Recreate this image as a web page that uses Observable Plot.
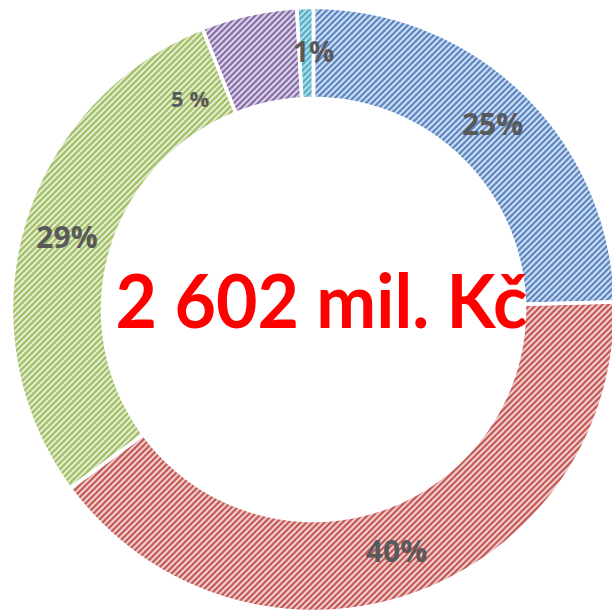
<!DOCTYPE html>
<html>
<head>
<meta charset="utf-8">
<script src="https://cdn.jsdelivr.net/npm/d3@7"></script>
<script src="https://cdn.jsdelivr.net/npm/@observablehq/plot@0.6"></script>
<style>
  html, body { margin: 0; padding: 0; background: #fff; }
</style>
</head>
<body>
<div id="chart"></div>
<script>
// ---- data (values in mil. Kč) ----
const categories = ["Segment 1", "Segment 2", "Segment 3", "Segment 4", "Segment 5"];
const values = [640, 1049, 757, 133, 23];
const pctLabels = ["25%", "40%", "29%", "5 %", "1%"];
const centerLabel = "2 602 mil. Kč";

// ---- styles ----
const stripeColors = ["#4f7fc0", "#c0504d", "#9bbb59", "#8064a2", "#4bacc6"];
const bgColors = ["#dae4f3", "#f4d9d8", "#e9f0dc", "#e3dcec", "#b9e1eb"];
const labelSizes = [30, 30, 30, 22, 28];

// ---- layout ----
const R_OUT = 302, R_IN = 211;
const labelPlacement = { 3: { angle: 329.5, r: 243 }, 4: { angle: 0, r: 256 } };

const total = d3.sum(values);
const toRad = Math.PI / 180;
let acc = 0;
const slices = values.map((v, i) => {
  const a0 = acc / total * 360;
  acc += v;
  const a1 = acc / total * 360;
  return { i, a0, a1 };
});

function slicePoints(s) {
  const pts = [];
  const n = Math.max(4, Math.ceil((s.a1 - s.a0) / 0.5));
  for (let k = 0; k <= n; k++) {
    const a = (s.a0 + (s.a1 - s.a0) * k / n) * toRad;
    pts.push({ x: R_OUT * Math.sin(a), y: R_OUT * Math.cos(a) });
  }
  for (let k = n; k >= 0; k--) {
    const a = (s.a0 + (s.a1 - s.a0) * k / n) * toRad;
    pts.push({ x: R_IN * Math.sin(a), y: R_IN * Math.cos(a) });
  }
  pts.push(pts[0]);
  return pts;
}

const labels = slices.map(s => {
  const p = labelPlacement[s.i] || { angle: (s.a0 + s.a1) / 2, r: (R_OUT + R_IN) / 2 };
  return { x: p.r * Math.sin(p.angle * toRad), y: p.r * Math.cos(p.angle * toRad), text: pctLabels[s.i], size: labelSizes[s.i] };
});

const fillMarks = slices.map(s => Plot.line(slicePoints(s), {
  x: "x", y: "y", fill: `url(#pat${s.i})`, stroke: "none", curve: "linear"
}));
const strokeMarks = slices.map(s => Plot.line(slicePoints(s), {
  x: "x", y: "y", fill: "none", stroke: "white", strokeWidth: 3.5, curve: "linear"
}));
const labelMarks = labels.map(l => Plot.text([l], {
  x: "x", y: "y", text: "text", fill: "#595959", fontSize: l.size, fontWeight: "bold", fontFamily: "Open Sans"
}));

const chart = Plot.plot({
  width: 612,
  height: 611,
  margin: 0,
  x: { domain: [-313, 299], axis: null },
  y: { domain: [-302, 309], axis: null },
  marks: [
    ...fillMarks,
    ...strokeMarks,
    ...labelMarks,
    Plot.text([{ x: 8, y: 5, t: centerLabel }], {
      x: "x", y: "y", text: "t", fill: "#ff0000", fontSize: 74, fontWeight: "bold", fontFamily: "Lato"
    })
  ]
});

// defs: stripe patterns + soft inner edge filters
const svg = d3.select(chart);
const defs = svg.insert("defs", ":first-child");
slices.forEach(s => {
  const p = defs.append("pattern").attr("id", `pat${s.i}`).attr("patternUnits", "userSpaceOnUse")
    .attr("width", 6).attr("height", 6);
  p.append("rect").attr("width", 6).attr("height", 6).attr("fill", bgColors[s.i]);
  p.append("path").attr("d", "M-1,1 L1,-1 M0,6 L6,0 M5,7 L7,5")
    .attr("stroke", stripeColors[s.i]).attr("stroke-width", 1.6).attr("shape-rendering", "crispEdges");
  const f = defs.append("filter").attr("id", `soft${s.i}`).attr("x", "-5%").attr("y", "-5%").attr("width", "110%").attr("height", "110%");
  f.append("feGaussianBlur").attr("in", "SourceAlpha").attr("stdDeviation", 3).attr("result", "blur");
  f.append("feComposite").attr("in", "SourceAlpha").attr("in2", "blur").attr("operator", "out").attr("result", "edge");
  f.append("feFlood").attr("flood-color", stripeColors[s.i]).attr("flood-opacity", 0.55).attr("result", "fl");
  f.append("feComposite").attr("in", "fl").attr("in2", "edge").attr("operator", "in").attr("result", "shadow");
  const m = f.append("feMerge");
  m.append("feMergeNode").attr("in", "SourceGraphic");
  m.append("feMergeNode").attr("in", "shadow");
});
// apply filters to the fill paths (first five line marks)
svg.selectAll("g[aria-label='line']").each(function (d, k) {
  if (k < slices.length) d3.select(this).attr("filter", `url(#soft${k})`);
});
// fit the centre label width to the reference
svg.selectAll("g[aria-label='text']").each(function (d, k) {
  if (k === slices.length) d3.select(this).selectAll("text").attr("textLength", 412).attr("lengthAdjust", "spacingAndGlyphs");
});

document.getElementById("chart").appendChild(chart);
</script>
</body>
</html>
